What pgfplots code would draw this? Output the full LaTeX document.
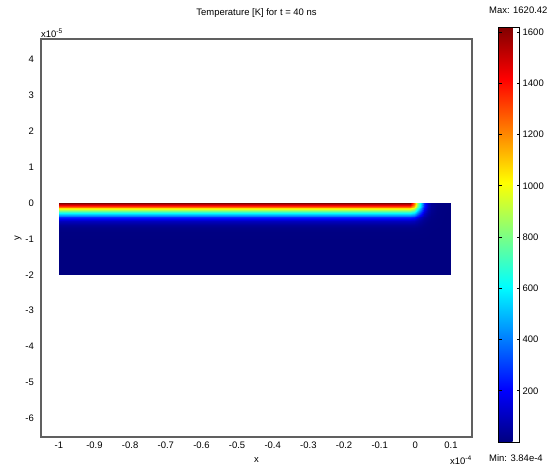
\documentclass[border=0pt]{standalone}
\usepackage{fontspec}
\setmainfont{Liberation Sans}
\usepackage{pgfplots}
\pgfplotsset{compat=1.18}
\pgfplotstableread{
x y T
-1.0 0 1620
-0.015 0 1620
-0.005 0 1250
0.005 0 880
0.015 0 540
0.025 0 270
0.035 0 100
0.045 0 35
0.06 0 8
0.08 0 1.4
0.10 0 0.2
-1.0 -0.05 1450
-0.015 -0.05 1450
-0.005 -0.05 1205
0.005 -0.05 858
0.015 -0.05 529
0.025 -0.05 264
0.035 -0.05 98
0.045 -0.05 34.5
0.06 -0.05 7.8
0.08 -0.05 1.4
0.10 -0.05 0.2
-1.0 -0.1 1250
-0.015 -0.1 1250
-0.005 -0.1 1093
0.005 -0.1 795
0.015 -0.1 495
0.025 -0.1 248
0.035 -0.1 92
0.045 -0.1 33
0.06 -0.1 7.4
0.08 -0.1 1.3
0.10 -0.1 0.2
-1.0 -0.15 1060
-0.015 -0.15 1060
-0.005 -0.15 951
0.005 -0.15 700
0.015 -0.15 441
0.025 -0.15 221
0.035 -0.15 82
0.045 -0.15 30.7
0.06 -0.15 6.7
0.08 -0.15 1.2
0.10 -0.15 0.2
-1.0 -0.2 880
-0.015 -0.2 880
-0.005 -0.2 795
0.005 -0.2 595
0.015 -0.2 372
0.025 -0.2 185
0.035 -0.2 69
0.045 -0.2 28
0.06 -0.2 5.8
0.08 -0.2 1.1
0.10 -0.2 0.2
-1.0 -0.25 700
-0.015 -0.25 700
-0.005 -0.25 638
0.005 -0.25 483
0.015 -0.25 295
0.025 -0.25 145
0.035 -0.25 55.5
0.045 -0.25 24
0.06 -0.25 4.9
0.08 -0.25 1.0
0.10 -0.25 0.2
-1.0 -0.3 540
-0.015 -0.3 540
-0.005 -0.3 495
0.005 -0.3 372
0.015 -0.3 226
0.025 -0.3 100
0.035 -0.3 43
0.045 -0.3 19
0.06 -0.3 4.2
0.08 -0.3 0.9
0.10 -0.3 0.15
-1.0 -0.35 400
-0.015 -0.35 400
-0.005 -0.35 364
0.005 -0.35 264
0.015 -0.35 162
0.025 -0.35 75
0.035 -0.35 32.6
0.045 -0.35 13
0.06 -0.35 3.6
0.08 -0.35 0.8
0.10 -0.35 0.15
-1.0 -0.4 270
-0.015 -0.4 270
-0.005 -0.4 248
0.005 -0.4 185
0.015 -0.4 100
0.025 -0.4 52
0.035 -0.4 26
0.045 -0.4 10.3
0.06 -0.4 3.1
0.08 -0.4 0.7
0.10 -0.4 0.15
-1.0 -0.45 180
-0.015 -0.45 180
-0.005 -0.45 162
0.005 -0.45 112
0.015 -0.45 67
0.025 -0.45 34.5
0.035 -0.45 18.3
0.045 -0.45 8
0.06 -0.45 2.6
0.08 -0.45 0.6
0.10 -0.45 0.1
-1.0 -0.5 100
-0.015 -0.5 100
-0.005 -0.5 92
0.005 -0.5 69
0.015 -0.5 43
0.025 -0.5 26
0.035 -0.5 11.4
0.045 -0.5 5.5
0.06 -0.5 2.1
0.08 -0.5 0.5
0.10 -0.5 0.1
-1.0 -0.6 35
-0.015 -0.6 35
-0.005 -0.6 33
0.005 -0.6 28
0.015 -0.6 19
0.025 -0.6 10.3
0.035 -0.6 5.5
0.045 -0.6 3.2
0.06 -0.6 1.3
0.08 -0.6 0.4
0.10 -0.6 0.1
-1.0 -0.7 12
-0.015 -0.7 12
-0.005 -0.7 11.4
0.005 -0.7 9.8
0.015 -0.7 7
0.025 -0.7 3.9
0.035 -0.7 2.9
0.045 -0.7 1.9
0.06 -0.7 0.8
0.08 -0.7 0.3
0.10 -0.7 0.05
-1.0 -0.8 4
-0.015 -0.8 4
-0.005 -0.8 3.9
0.005 -0.8 3.6
0.015 -0.8 3
0.025 -0.8 2.3
0.035 -0.8 1.5
0.045 -0.8 0.5
0.06 -0.8 0.5
0.08 -0.8 0.2
0.10 -0.8 0.05
-1.0 -1.0 0.5
-0.015 -1.0 0.5
-0.005 -1.0 0.5
0.005 -1.0 0.46
0.015 -1.0 0.41
0.025 -1.0 0.35
0.035 -1.0 0.26
0.045 -1.0 0.17
0.06 -1.0 0.1
0.08 -1.0 0.1
0.10 -1.0 0.01
-1.0 -2.0 0
-0.015 -2.0 0
-0.005 -2.0 0
0.005 -2.0 0
0.015 -2.0 0
0.025 -2.0 0
0.035 -2.0 0
0.045 -2.0 0
0.06 -2.0 0
0.08 -2.0 0
0.10 -2.0 0
}\temptable
\begin{document}
\begin{tikzpicture}[x=1bp,y=1bp]
\useasboundingbox (0,0) rectangle (558,470);
\begin{axis}[
  at={(41bp,33bp)}, anchor=south west,
  width=431bp, height=398bp, scale only axis,
  xmin=-1.05, xmax=0.159, ymin=-6.52, ymax=4.57,
  xtick={-1,-0.9,-0.8,-0.7,-0.6,-0.5,-0.4,-0.3,-0.2,-0.1,0,0.1},
  xticklabels={-1,-0.9,-0.8,-0.7,-0.6,-0.5,-0.4,-0.3,-0.2,-0.1,0,0.1},
  ytick={-6,-5,-4,-3,-2,-1,0,1,2,3,4},
  yticklabels={-6,-5,-4,-3,-2,-1,0,1,2,3,4},
  major tick length=0pt,
  font=\fontsize{9.5}{11}\selectfont,
  xticklabel style={inner sep=0pt, yshift=-5bp},
  yticklabel style={inner sep=0pt, xshift=-7bp},
  axis line style={draw=gray!75!black, line width=1.2bp},
  title={Temperature [K] for t = 40 ns},
  title style={at={(axis description cs:0.5,1)}, anchor=center, yshift=20bp},
  xlabel={x},
  xlabel style={at={(axis description cs:0.5,0)}, anchor=center, yshift=-23bp},
  ylabel={y},
  ylabel style={at={(axis description cs:-0.053,0.5)}, anchor=center},
  colormap/jet,
  point meta min=0, point meta max=1620.42,
  colorbar,
  colorbar style={
    at={(parent axis.north east)}, anchor=north west,
    xshift=18bp, yshift=12bp,
    width=21bp, height=415bp, scale only axis,
    ytick={200,400,600,800,1000,1200,1400,1600},
    ytick pos=both, yticklabel pos=right,
    major tick length=3bp, tick align=inside,
    tick style={black, line width=0.8bp},
    axis line style={black, line width=0.8bp},
    font=\fontsize{9.5}{11}\selectfont,
    yticklabel style={inner sep=0pt, xshift=3bp,
      /pgf/number format/1000 sep={},
      /pgf/number format/assume math mode=true},
  },
]
\addplot[surf, shader=interp, mesh/cols=11, mesh/rows=16, point meta=explicit]
  table[x=x, y=y, meta=T] {\temptable};
\end{axis}
\node[anchor=south west, inner sep=0pt, font=\fontsize{9.5}{11}\selectfont] at (41,432) {x10\textsuperscript{-5}};
\node[anchor=east, inner sep=0pt, font=\fontsize{9.5}{11}\selectfont] at (472,10) {x10\textsuperscript{-4}};
\node[anchor=west, inner sep=0pt, font=\fontsize{9.5}{11}\selectfont] at (489,460) {Max: 1620.42};
\node[anchor=west, inner sep=0pt, font=\fontsize{9.5}{11}\selectfont] at (489,12) {Min: 3.84e-4};
\end{tikzpicture}
\end{document}
